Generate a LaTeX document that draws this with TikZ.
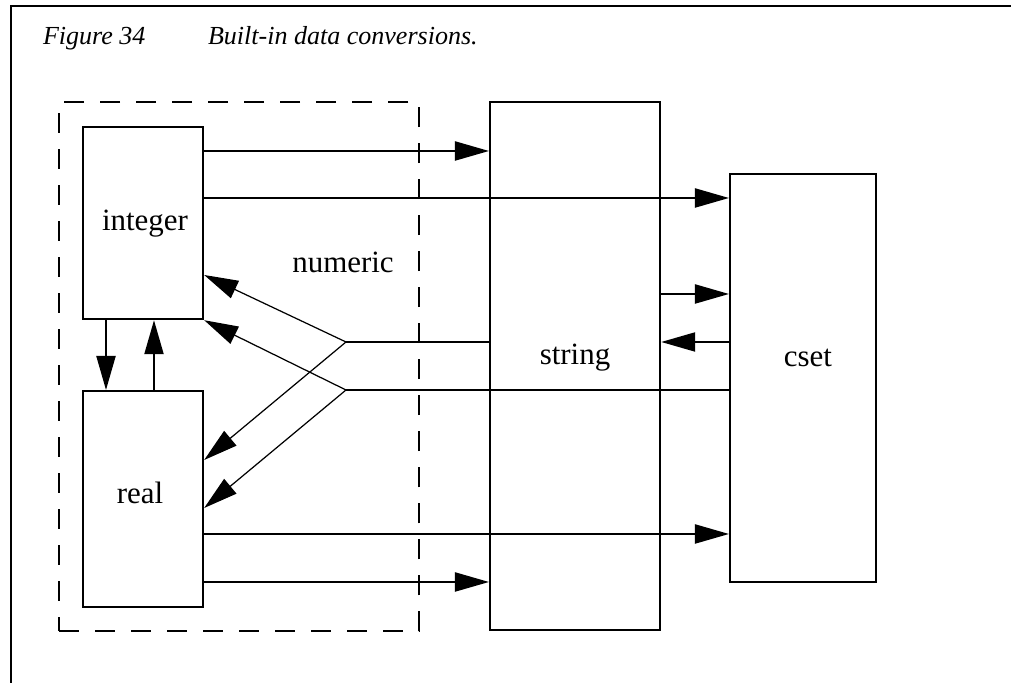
\documentclass[tikz,border=0pt]{standalone}
\usepackage{fontspec}
\setmainfont{Liberation Serif}
\usetikzlibrary{arrows.meta}

\tikzset{
  box/.style={draw, line width=0.6pt, inner sep=0pt, anchor=north west},
  lbl/.style={anchor=base, inner sep=0pt, font=\fontsize{8.8}{10}\selectfont},
  captxt/.style={anchor=base west, inner sep=0pt, font=\fontsize{7.4}{9}\selectfont\itshape},
}

\begin{document}
\begin{tikzpicture}[x=0.01cm, y=-0.01cm, line width=0.6pt,
    >={Triangle[length=0.34cm, width=0.19cm]}]
  \useasboundingbox (0,0) rectangle (1011,683);
  % page frame
  \draw (11,683) -- (11,6) -- (1011,6);
  \node[captxt] (fignum) at (42,45) {Figure 34};
  \node[captxt] (figcap) at (207,45) {Built-in data conversions.};

  % boxes
  \node[box, dash pattern=on 0.2cm off 0.16cm, minimum width=3.6cm, minimum height=5.29cm] (num) at (58,101) {};
  \node[box, minimum width=1.2cm, minimum height=1.92cm] (int) at (82,126) {};
  \node[box, minimum width=1.2cm, minimum height=2.16cm] (rl) at (82,390) {};
  \node[box, minimum width=1.7cm, minimum height=5.28cm] (str) at (489,101) {};
  \node[box, minimum width=1.46cm, minimum height=4.08cm] (cset) at (729,173) {};

  \node[lbl] (intlbl) at (145,231) {integer};
  \node[lbl] (rllbl) at (140,504) {real};
  \node[lbl] (numlbl) at (343,273) {numeric};
  \node[lbl] (strlbl) at (575,365) {string};
  \node[lbl] (csetlbl) at (808,367) {cset};

  % integer <-> real
  \draw[->] (int.south -| 106,0) -- (rl.north -| 106,0);
  \draw[->] (rl.north -| 154,0) -- (int.south -| 154,0);

  % to string and cset
  \draw[->] (int.east |- 0,151) -- (str.west |- 0,151);
  \draw[->] (int.east |- 0,198) -- (cset.west |- 0,198);
  \draw[->] (str.east |- 0,294) -- (cset.west |- 0,294);
  \draw[->] (cset.west |- 0,342) -- (str.east |- 0,342);
  \draw[->] (rl.east |- 0,534) -- (cset.west |- 0,534);
  \draw[->] (rl.east |- 0,582) -- (str.west |- 0,582);

  % back to numeric
  \coordinate (sa) at (346,342);
  \coordinate (sb) at (346,390);
  \draw (str.west |- sa) -- (sa);
  \draw (cset.west |- sb) -- (sb);
  \draw[->, line width=0.35pt] (sa) -- (int.east |- 0,275);
  \draw[->, line width=0.35pt] (sa) -- (rl.east |- 0,460);
  \draw[->, line width=0.35pt] (sb) -- (int.south east);
  \draw[->, line width=0.35pt] (sb) -- (rl.east |- 0,508);
\end{tikzpicture}
\end{document}
